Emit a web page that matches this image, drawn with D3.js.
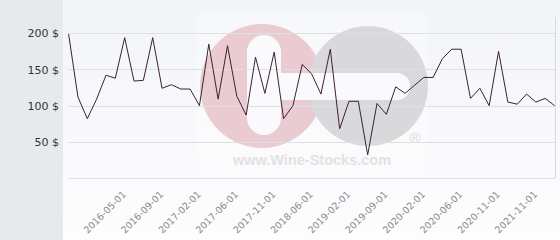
<!DOCTYPE html>
<html><head><meta charset="utf-8">
<script src="https://cdn.jsdelivr.net/npm/d3@7"></script>
<style>html,body{margin:0;padding:0;background:#fff;}svg{display:block;}</style>
</head><body><svg id="c" width="560" height="240"></svg>
<script>
const dates = ["2015-11-01","2015-12-01","2016-01-01","2016-02-01","2016-03-01","2016-04-01",
"2016-05-01","2016-06-01","2016-07-01","2016-08-01",
"2016-09-01","2016-10-01","2016-11-01","2017-01-01",
"2017-02-01","2017-03-01","2017-04-01","2017-05-01",
"2017-06-01","2017-07-01","2017-08-01","2017-09-01",
"2017-11-01","2018-01-01","2018-03-01","2018-04-01",
"2018-06-01","2018-08-01","2018-10-01","2018-12-01",
"2019-02-01","2019-04-01","2019-06-01","2019-07-01",
"2019-09-01","2019-10-01","2019-11-01","2019-12-01",
"2020-02-01","2020-03-01","2020-04-01","2020-05-01",
"2020-06-01","2020-07-01","2020-08-01","2020-09-01",
"2020-11-01","2021-02-01","2021-05-01","2021-08-01",
"2021-11-01","2021-12-01","2022-01-01"];
const prices = [199,112,82,109,142,138,194,134,135,194,
124,129,123,123,100,185,109,183,113,87,
167,117,174,82,100,157,144,116,178,68,
106,106,32,103,88,126,117,128,139,139,
165,178,178,110,124,100,175,105,102,116,
105,110,100];
const tickLabels = ["2016-05-01","2016-09-01","2017-02-01","2017-06-01","2017-11-01","2018-06-01",
"2019-02-01","2019-09-01","2020-02-01","2020-06-01","2020-11-01","2021-11-01"];
const yTicks = [50,100,150,200];

const svg = d3.select("#c");
const defs = svg.append("defs");
const g = defs.append("linearGradient").attr("id","bg").attr("x1",0).attr("y1",0).attr("x2",0).attr("y2",1);
g.append("stop").attr("offset","0%").attr("stop-color","#f3f4f8");
g.append("stop").attr("offset","100%").attr("stop-color","#fdfdfe");

svg.append("rect").attr("x",0).attr("y",0).attr("width",63).attr("height",240).attr("fill","#e7eaed");
svg.append("rect").attr("x",63).attr("y",0).attr("width",497).attr("height",240).attr("fill","url(#bg)");

const x = d3.scalePoint().domain(dates).range([68.6, 554.6]);
const y = d3.scaleLinear().domain([0,200]).range([178,33.3]);

// watermark
const wm = svg.append("g");
wm.append("rect").attr("x",197).attr("y",14).attr("width",230).attr("height",158).attr("fill","#ffffff").attr("opacity",0.3);
wm.append("circle").attr("cx",262).attr("cy",86).attr("r",62).attr("fill","#ebcbd2");
wm.append("circle").attr("cx",368).attr("cy",86).attr("r",60).attr("fill","#d9d9db");
wm.append("rect").attr("x",247).attr("y",35).attr("width",34).attr("height",100).attr("rx",17).attr("fill","#fafafc");
wm.append("rect").attr("x",270).attr("y",73).attr("width",140).attr("height",27).attr("rx",13).attr("fill","#fafafc");
wm.append("text").attr("x",312).attr("y",165).attr("text-anchor","middle")
  .attr("font-family","Liberation Sans, Arial, sans-serif").attr("font-weight","bold").attr("font-size",14.5)
  .attr("fill","#e2e2e4").text("www.Wine-Stocks.com");
wm.append("text").attr("x",415).attr("y",143).attr("text-anchor","middle")
  .attr("font-family","Liberation Sans, Arial, sans-serif").attr("font-size",15)
  .attr("fill","#dcdcde").text("®");

// grid
svg.append("g").selectAll("line").data([0].concat(yTicks)).join("line")
  .attr("x1",68).attr("x2",555).attr("y1",d=>Math.round(y(d))+0.5).attr("y2",d=>Math.round(y(d))+0.5)
  .attr("stroke","#dfe0e3").attr("stroke-width",1);
svg.append("line").attr("x1",555.5).attr("x2",555.5).attr("y1",17).attr("y2",178).attr("stroke","#d8d9dc");

// y axis
const ya = svg.append("g").attr("transform","translate(59,0)")
  .call(d3.axisLeft(y).tickValues(yTicks).tickSize(0).tickPadding(0).tickFormat(d=>d+" $"));
ya.select(".domain").remove();
ya.selectAll("text").attr("font-family","DejaVu Sans, sans-serif").attr("font-size",11).attr("fill","#333");

// x axis
const xa = svg.append("g").attr("transform","translate(0,178)")
  .call(d3.axisBottom(x).tickValues(tickLabels).tickSize(0).tickPadding(0));
xa.select(".domain").remove();
xa.selectAll("text").attr("font-family","DejaVu Sans, sans-serif").attr("font-size",9.5).attr("fill","#8a8a8a")
  .attr("text-anchor","end").attr("dy",0).attr("y",0)
  .attr("transform","translate(1.5,17) rotate(-45)");

// line
svg.append("path").datum(dates.map((d,i)=>[d,prices[i]]))
  .attr("fill","none").attr("stroke","#3a2230").attr("stroke-width",1)
  .attr("d", d3.line().x(d=>x(d[0])).y(d=>y(d[1])));
</script></body></html>
